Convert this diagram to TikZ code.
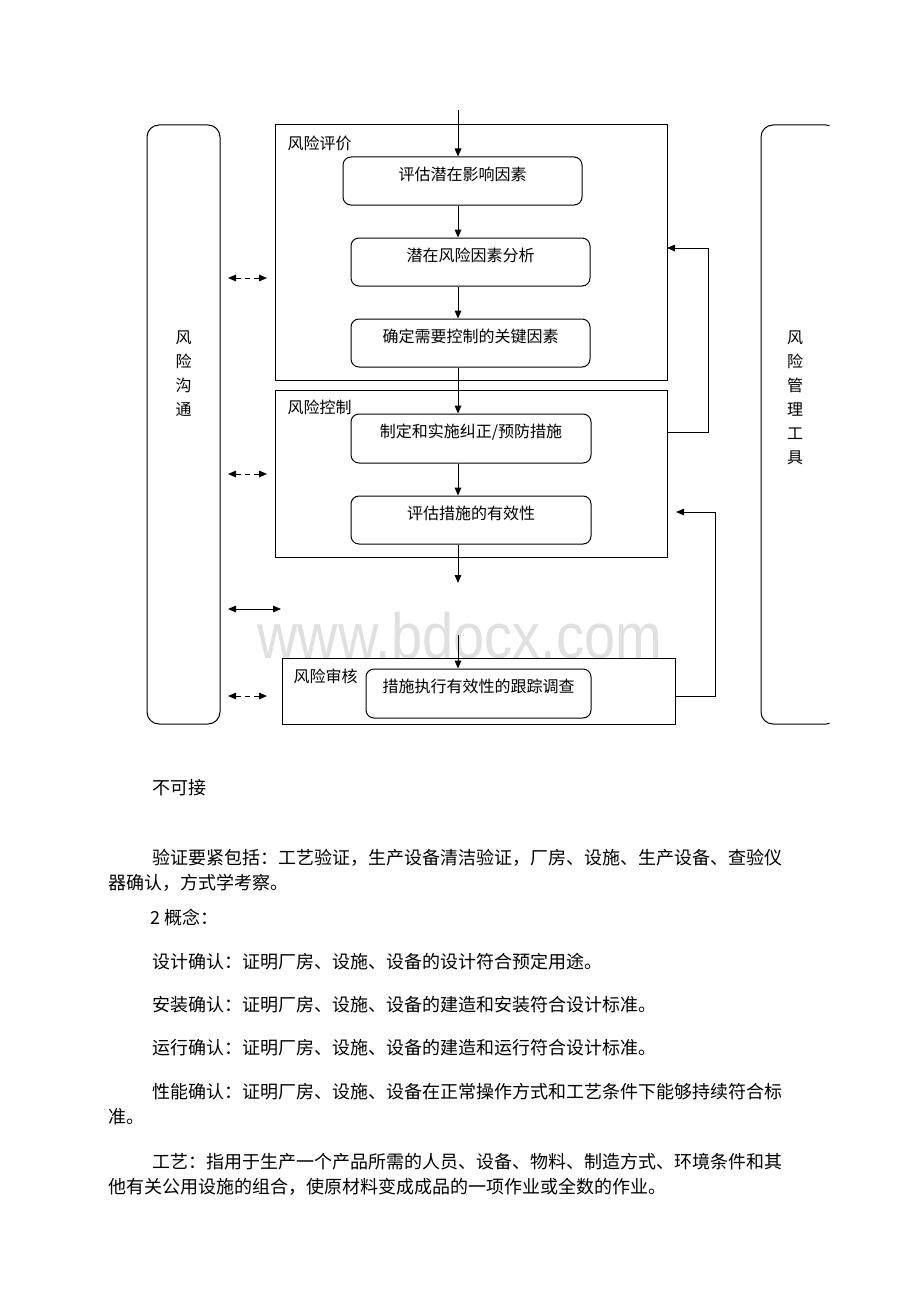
\documentclass[tikz,border=0pt]{standalone}
\usepackage{fontspec}
\setmainfont{Liberation Serif}
\newfontfamily\cjk{Noto Sans CJK SC}
\newfontfamily\wmfont{Liberation Sans}
\usetikzlibrary{arrows.meta,fit}
\XeTeXlinebreaklocale "zh"
\XeTeXlinebreakskip = 0pt plus 1pt

\tikzset{
  box/.style={draw,rounded corners=6pt,inner sep=0pt,font=\cjk\fontsize{12}{14}\selectfont},
  grp/.style={draw,inner sep=0pt},
  pillar/.style={draw,rounded corners=9pt,inner sep=0pt},
  lbl/.style={anchor=west,inner sep=0pt,font=\cjk\fontsize{12}{14}\selectfont},
  body/.style={anchor=west,inner sep=0pt,font=\cjk\fontsize{13.5}{16}\selectfont},
  dashes/.style={dash pattern=on 4pt off 3pt},
  arr/.style={-{Triangle[length=6pt,width=5pt]}},
  both/.style={{Triangle[length=6pt,width=5pt]}-{Triangle[length=6pt,width=5pt]}}
}
\newcommand{\fullline}[1]{\makebox[484.5pt][s]{#1}}

\begin{document}
\begin{tikzpicture}[x=0.75pt,y=-0.75pt,line width=0.75pt]
    \useasboundingbox (0,0) rectangle (920,1302);
    \node[anchor=base west,inner sep=0pt,text depth=0pt,xscale=0.875,text=black!12,font=\wmfont\fontsize{48}{48}\selectfont] (wm) at (257,658) {www.bdocx.com};

    % side pillars
    \node[pillar,fit={(147,125) (220,724)}] (comm) {};
    \node[align=center,inner sep=0pt,font=\cjk\fontsize{12}{18}\selectfont] (commtxt) at (183.5,374) {风\\险\\沟\\通};
    \begin{scope}
        \clip (0,0) rectangle (829.5,1302);
        \node[pillar,fit={(761,125) (838,724)}] (tools) {};
    \end{scope}
    \node[align=center,inner sep=0pt,font=\cjk\fontsize{12}{18}\selectfont] (toolstxt) at (795,398) {风\\险\\管\\理\\工\\具};

    % stages
    \node[grp,fit={(275,125) (667,380)}] (eval) {};
    \node[grp,fit={(275,390) (667,557)}] (ctrl) {};
    \node[grp,fit={(282,658) (675,724)}] (review) {};
    \node[lbl] (evallbl) at (287,143) {风险评价};
    \node[lbl] (ctrllbl) at (287,407) {风险控制};
    \node[lbl] (reviewlbl) at (293,676) {风险审核};

    \node[box,fit={(343,157) (582,205)}] (assess) {评估潜在影响因素};
    \node[box,fit={(351,238) (590,286)}] (analyse) {潜在风险因素分析};
    \node[box,fit={(351,319) (590,367)}] (keyfac) {确定需要控制的关键因素};
    \node[box,fit={(351,414) (591,463)}] (act) {制定和实施纠正/预防措施};
    \node[box,fit={(351,496) (591,544)}] (check) {评估措施的有效性};
    \node[box,fit={(366,669) (591,718)}] (track) {措施执行有效性的跟踪调查};

    % main flow
    \coordinate (in) at (458,110);
    \coordinate (out) at (458,583);
    \coordinate (back) at (458,635);
    \draw[arr] (in) -- (in |- assess.north);
    \foreach \a/\b in {assess/analyse, analyse/keyfac, keyfac/act, act/check}
        \draw[arr] (\a.south -| in) -- (in |- \b.north);
    \draw[arr] (check.south -| in) -- (out);
    \draw[arr] (back) -- (back |- track.north);

    % feedback loops
    \coordinate (up1) at (708,432);
    \coordinate (hit1) at (667,248);
    \coordinate (up2) at (715,696);
    \coordinate (hit2) at (676,512);
    \draw[arr] (ctrl.east |- up1) -- (up1) |- (hit1);
    \draw[arr] (review.east |- up2) -- (up2) |- (hit2);

    % communication arrows
    \foreach \y/\r/\s in {278/267/dashes, 474/267/dashes, 609/281/solid, 696/267/dashes}
        \draw[both,\s] (228,\y) -- (\r,\y);

    % text below
    \node[body] (l1) at (152,788) {不可接};
    \node[body] (l2) at (152,858) {\fullline{验证要紧包括：工艺验证，生产设备清洁验证，厂房、设施、生产设备、查验仪}};
    \node[body] (l3) at (108,883) {器确认，方式学考察。};
    \node[body] (l4) at (150,918) {2 概念：};
    \node[body] (l5) at (152,962) {设计确认：证明厂房、设施、设备的设计符合预定用途。};
    \node[body] (l6) at (152,1005) {安装确认：证明厂房、设施、设备的建造和安装符合设计标准。};
    \node[body] (l7) at (152,1048) {运行确认：证明厂房、设施、设备的建造和运行符合设计标准。};
    \node[body] (l8) at (152,1092) {\fullline{性能确认：证明厂房、设施、设备在正常操作方式和工艺条件下能够持续符合标}};
    \node[body] (l9) at (108,1117) {准。};
    \node[body] (l10) at (152,1162) {\fullline{工艺：指用于生产一个产品所需的人员、设备、物料、制造方式、环境条件和其}};
    \node[body] (l11) at (108,1187) {他有关公用设施的组合，使原材料变成成品的一项作业或全数的作业。};
\end{tikzpicture}
\end{document}
